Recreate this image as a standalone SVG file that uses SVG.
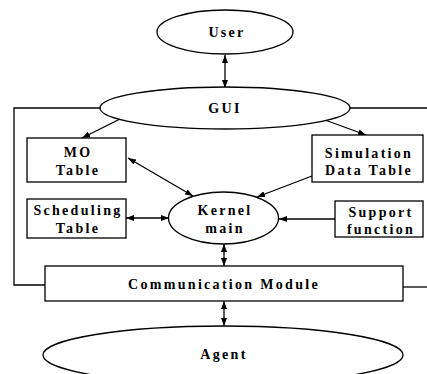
<svg xmlns="http://www.w3.org/2000/svg" width="427" height="374" viewBox="0 0 427 374">
<style>
.shape{fill:#fff;stroke:#000;stroke-width:1.3}
.ln{fill:none;stroke:#000;stroke-width:1.3}
.t{font-family:"Liberation Serif","Times New Roman",serif;font-size:14px;font-weight:bold;letter-spacing:2.3px;text-anchor:middle;fill:#000}
</style>
<defs>
<marker id="ah" viewBox="0 0 8 6" refX="8" refY="3" markerWidth="8" markerHeight="6" markerUnits="userSpaceOnUse" orient="auto-start-reverse">
<path d="M0,0 L8,3 L0,6 z" fill="#000"/>
</marker>
</defs>
<rect width="427" height="374" fill="#fff"/>
<g id="connectors">
<polyline class="ln" points="100,108 14,108 14,285 45,285"/>
<line class="ln" x1="350" y1="108" x2="427" y2="108"/>
<line class="ln" x1="403" y1="287" x2="427" y2="287"/>
<line class="ln" x1="225" y1="55" x2="225" y2="88" marker-start="url(#ah)" marker-end="url(#ah)"/>
<line class="ln" x1="120" y1="119" x2="82" y2="138" marker-end="url(#ah)"/>
<line class="ln" x1="325" y1="120" x2="366" y2="135" marker-end="url(#ah)"/>
<line class="ln" x1="128" y1="158" x2="193" y2="196" marker-start="url(#ah)" marker-end="url(#ah)"/>
<line class="ln" x1="312" y1="176" x2="257" y2="197" marker-end="url(#ah)"/>
<line class="ln" x1="126" y1="218" x2="169" y2="218" marker-start="url(#ah)" marker-end="url(#ah)"/>
<line class="ln" x1="335" y1="219" x2="279" y2="219" marker-end="url(#ah)"/>
<line class="ln" x1="224" y1="244" x2="224" y2="266" marker-start="url(#ah)" marker-end="url(#ah)"/>
<line class="ln" x1="224" y1="301" x2="224" y2="326" marker-start="url(#ah)" marker-end="url(#ah)"/>
</g>
<g id="user">
<ellipse class="shape" cx="225" cy="32" rx="68" ry="22"/>
<text class="t" x="227" y="37">User</text>
</g>
<g id="gui">
<ellipse class="shape" cx="225" cy="108" rx="125" ry="21"/>
<text class="t" x="225" y="113">GUI</text>
</g>
<g id="mo-table">
<rect class="shape" x="27" y="138" width="99" height="44"/>
<text class="t" x="78" y="157">MO</text>
<text class="t" x="78" y="175">Table</text>
</g>
<g id="simulation-data-table">
<rect class="shape" x="312" y="135" width="111" height="47"/>
<text class="t" x="369" y="158">Simulation</text>
<text class="t" x="369" y="175">Data Table</text>
</g>
<g id="scheduling-table">
<rect class="shape" x="27" y="199" width="99" height="39"/>
<text class="t" x="78" y="215">Scheduling</text>
<text class="t" x="78" y="233">Table</text>
</g>
<g id="kernel">
<ellipse class="shape" cx="223.5" cy="218" rx="55" ry="26"/>
<text class="t" x="225" y="215">Kernel</text>
<text class="t" x="225" y="233">main</text>
</g>
<g id="support-function">
<rect class="shape" x="335" y="201" width="88" height="36"/>
<text class="t" x="381" y="217">Support</text>
<text class="t" x="381" y="234">function</text>
</g>
<g id="communication-module">
<rect class="shape" x="45" y="266" width="358" height="35"/>
<text class="t" x="224" y="289">Communication Module</text>
</g>
<g id="agent">
<ellipse class="shape" cx="223" cy="355" rx="180" ry="29"/>
<text class="t" x="224" y="359">Agent</text>
</g>
</svg>
